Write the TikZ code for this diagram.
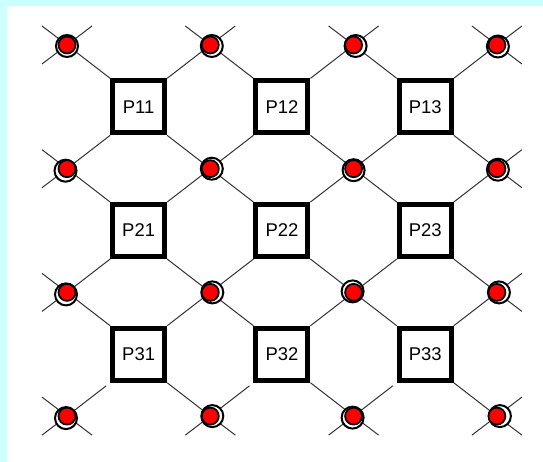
\documentclass[tikz,border=0pt]{standalone}
\usepackage{xcolor}
\usepackage{tikz}
\usepackage{fontspec}
\setmainfont{Liberation Sans}
\usetikzlibrary{shapes,arrows,positioning,calc,backgrounds}
\definecolor{panelcyan}{HTML}{CCFFFF}

\begin{document}
\begin{tikzpicture}[x=0.02cm, y=-0.02cm,
    pbox/.style={draw, line width=0.1cm, fill=white, minimum size=1.04cm, inner sep=0pt, font=\fontsize{10.5}{12}\selectfont},
    reddot/.style={circle, draw, fill=red, line width=0.035cm, minimum size=0.34cm, inner sep=0pt},
    wire/.style={black!80, line width=0.02cm},
    gap/.style={wire, shorten >=0.1cm}]
    \useasboundingbox (0,0) rectangle (543,462);

    % Dots
    \foreach \r in {0,...,3}
        \foreach \c in {0,...,3}
            \node[reddot] (d\r\c) at ({67+143.3*\c},{45+123.7*\r}) {};

    % Boxes P11 ... P33
    \foreach \r in {1,2,3}
        \foreach \c in {1,2,3}
            \node[pbox] (p\r\c) at ({67+143.3*\c-71.65},{45+123.7*\r-61.85}) {P\r\c};

    \begin{pgfonlayer}{background}
        \fill[panelcyan] (0,0) rectangle (543,462);
        \fill[white] (7,6) rectangle (543,462);

        % Links: dot to box corner
        \foreach \r/\rr/\ls in {1/0/wire,2/1/wire,3/2/gap}
            \foreach \c/\cc in {1/0,2/1,3/2} {
                \draw[wire] (d\rr\cc) -- (p\r\c.north west);
                \draw[wire] (d\rr\c) -- (p\r\c.north east);
                \draw[\ls] (d\r\cc) -- (p\r\c.south west);
                \draw[wire] (d\r\c) -- (p\r\c.south east);
            }

        % Open ends
        \foreach \d in {00,01,02,03,10,20,30} {
            \coordinate (nw\d) at ($(d\d)+(-25,-19)$);
            \draw[wire] (d\d) -- (nw\d);
        }
        \foreach \d in {00,01,02,03,13,23,33} {
            \coordinate (ne\d) at ($(d\d)+(25,-19)$);
            \draw[wire] (d\d) -- (ne\d);
        }
        \foreach \d in {00,10,20,30,31,32,33} {
            \coordinate (sw\d) at ($(d\d)+(-25,19)$);
            \draw[wire] (d\d) -- (sw\d);
        }
        \foreach \d in {03,13,23,33,30,31,32} {
            \coordinate (se\d) at ($(d\d)+(25,19)$);
            \draw[wire] (d\d) -- (se\d);
        }

        % Rings behind the dots
        \foreach \d/\dx/\dy in {00/0/1, 01/1.5/1, 02/2/1, 03/1/1.5,
                                10/-1.5/2, 11/1.5/0, 12/0/1.5, 13/1/1,
                                20/-1/2, 21/2/0, 22/-1/-1, 23/2/0,
                                30/-1/2, 31/2/0, 32/-1/1.5, 33/3/0}
            \filldraw[fill=white, draw=black, line width=0.04cm] ($(d\d)+(\dx,\dy)$) circle[radius=0.22cm];
    \end{pgfonlayer}
\end{tikzpicture}
\end{document}
